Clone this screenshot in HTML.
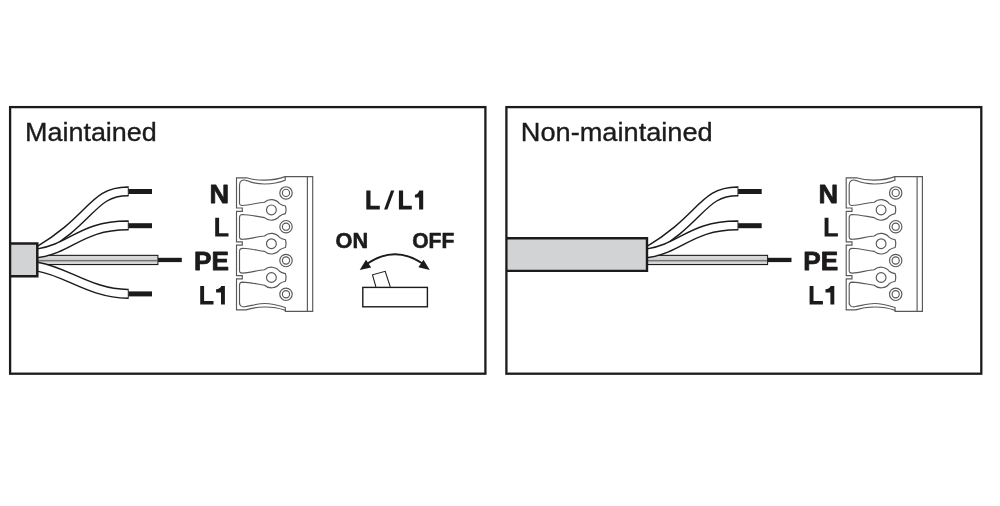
<!DOCTYPE html>
<html><head><meta charset="utf-8"><style>
html,body{margin:0;padding:0;background:#fff;}
body{width:1000px;height:506px;overflow:hidden;position:relative;}
svg{position:absolute;left:0;top:0;will-change:transform;}
text{font-family:"Liberation Sans",sans-serif;fill:#1c1a1b;}
</style></head><body>
<svg width="1000" height="506" viewBox="0 0 1000 506">
<rect x="20" y="254.8" width="138.4" height="10.3" fill="#1d1a1b"/><rect x="20" y="255.9" width="137.4" height="8.1" fill="#d5d6d8"/><rect x="20" y="259.9" width="137.4" height="1.5" fill="#747474"/><rect x="158" y="257.8" width="23.8" height="4.3" fill="#1d1a1b"/><path d="M20 252.5 L38 251.2 C93.2 218.4 92.6 191.4 127.8 191.4 H128.7" stroke="#1d1a1b" stroke-width="10.2" fill="none"/><path d="M20 252.5 L38 251.2 C93.2 218.4 92.6 191.4 127.8 191.4 H127.3" stroke="#fff" stroke-width="7.3" fill="none"/><rect x="128.4" y="189.0" width="23.6" height="5" fill="#1d1a1b"/><path d="M20 255.5 L38 253.2 C71.5 248.2 81.4 225.4 127.8 225.4 H128.7" stroke="#1d1a1b" stroke-width="10.2" fill="none"/><path d="M20 255.5 L38 253.2 C71.5 248.2 81.4 225.4 127.8 225.4 H127.3" stroke="#fff" stroke-width="7.3" fill="none"/><rect x="128.4" y="223.2" width="23.6" height="5" fill="#1d1a1b"/><path d="M20 266 L38 266.8 C66.2 271.4 91.0 293.8 127.8 293.8 H128.7" stroke="#1d1a1b" stroke-width="10.2" fill="none"/><path d="M20 266 L38 266.8 C66.2 271.4 91.0 293.8 127.8 293.8 H127.3" stroke="#fff" stroke-width="7.3" fill="none"/><rect x="128.4" y="291.4" width="23.6" height="5" fill="#1d1a1b"/>
<rect x="10" y="243.4" width="27.3" height="32.8" fill="#d2d3d5"/><path d="M10 243.4 H37.3 V276.2 H10" fill="none" stroke="#1d1a1b" stroke-width="2.5"/>
<rect x="10.1" y="107.1" width="475.3" height="266.6" fill="none" stroke="#1d1a1b" stroke-width="2.3"/>
<g fill="none" stroke="#5a5758" stroke-width="1.15">
<path d="M236.5 177.8 H246.7 C256 180.8 272 181.5 285.2 176.6 H312.7 V311.3 H285.4 V310.4 C272 305.5 256 306.5 246 309.9 H236.5 V278.9 H242.3 V275.6 H236.5 V245.1 H242.3 V241.8 H236.5 V211.3 H242.3 V208.0 H236.5 Z" fill="#fff"/>
<path d="M285.2 176.6 V180.3 C272 185.5 256 184.8 246.7 180.6 C243 179.2 239.5 180.5 239.5 185 V203 Q239.5 205.6 242.5 205.5 C250 205.0 257 202.9 264.5 202.2 A10.3 10.3 0 0 1 279.5 203.6 C281.5 205.2 283.5 205.6 285.4 206.0 C286.2 208.5 286.2 211.2 285.4 213.6 C283.5 214.1 281.5 214.6 279.5 216.2 A10.3 10.3 0 0 1 264.5 217.6 C257 216.5 250 214.8 242.5 214.5 Q239.5 214.5 239.5 217.5 V236.8 Q239.5 239.4 242.5 239.3 C250 238.8 257 236.7 264.5 236.0 A10.3 10.3 0 0 1 279.5 237.4 C281.5 239.0 283.5 239.4 285.4 239.8 C286.2 242.3 286.2 245.0 285.4 247.4 C283.5 247.9 281.5 248.4 279.5 250.0 A10.3 10.3 0 0 1 264.5 251.4 C257 250.3 250 248.6 242.5 248.3 Q239.5 248.3 239.5 251.3 V270.6 Q239.5 273.2 242.5 273.1 C250 272.6 257 270.5 264.5 269.8 A10.3 10.3 0 0 1 279.5 271.2 C281.5 272.8 283.5 273.2 285.4 273.6 C286.2 276.1 286.2 278.8 285.4 281.2 C283.5 281.7 281.5 282.2 279.5 283.8 A10.3 10.3 0 0 1 264.5 285.2 C257 284.1 250 282.4 242.5 282.1 Q239.5 282.1 239.5 285.1 V304.4 V302.5 C239.5 305.5 241.5 307 244.6 306.8 C252 305.6 258 303.5 265 303.5 C272 303.5 279 305.5 285.3 307.5 V310.4"/>
<line x1="307.4" y1="176.6" x2="307.4" y2="311.3"/>
<circle cx="286" cy="192.9" r="6.2"/><circle cx="286" cy="192.9" r="3.6"/><circle cx="286" cy="226.7" r="6.2"/><circle cx="286" cy="226.7" r="3.6"/><circle cx="286" cy="260.5" r="6.2"/><circle cx="286" cy="260.5" r="3.6"/><circle cx="286" cy="294.3" r="6.2"/><circle cx="286" cy="294.3" r="3.6"/><circle cx="271.4" cy="209.9" r="4.9"/><circle cx="271.4" cy="243.7" r="4.9"/><circle cx="271.4" cy="277.5" r="4.9"/>
</g>
<text x="25.0" y="141.0" font-size="26.3" stroke="#1c1a1b" stroke-width="0.35" textLength="131.8" lengthAdjust="spacingAndGlyphs">Maintained</text>
<g font-weight="bold" font-size="26" stroke="#1c1a1b" stroke-width="0.8" stroke-linejoin="round">
<text x="209.4" y="202.9" textLength="19.6" lengthAdjust="spacingAndGlyphs">N</text>
<text x="194.1" y="270.3" textLength="34.9" lengthAdjust="spacingAndGlyphs">PE</text>
</g>
<g fill="#1c1a1b"><path d="M366.30 190.40 H370.50 V205.80 H379.80 V209.40 H366.30 Z"/><path d="M384.1 209.4 H387.4 L394.3 190.4 H391 Z"/><path d="M398.90 190.40 H403.10 V205.80 H411.80 V209.40 H398.90 Z"/><path d="M423.20 190.60 V209.40 H419.10 V197.60 H414.90 V194.80 C417.30 194.70 418.90 192.20 419.30 190.60 Z"/></g>
<text x="335.6" y="248.1" font-weight="bold" font-size="22.6" stroke="#1c1a1b" stroke-width="0.6" stroke-linejoin="round" textLength="32.6" lengthAdjust="spacingAndGlyphs">ON</text>
<text x="412.2" y="248.1" font-weight="bold" font-size="22.6" stroke="#1c1a1b" stroke-width="0.6" stroke-linejoin="round" textLength="42.1" lengthAdjust="spacingAndGlyphs">OFF</text>
<g transform="translate(0 0)" fill="#1c1a1b"><path d="M215.20 217.70 H219.10 V233.20 H228.50 V236.60 H215.20 Z"/><path d="M200.20 285.90 H204.10 V301.10 H213.50 V304.50 H200.20 Z"/><path d="M224.90 285.90 V304.50 H221.00 V292.60 H216.10 V289.30 C218.50 289.20 220.80 287.50 221.20 285.90 Z"/></g>
<path d="M367.5 263.5 Q395 245 422.5 263.5" fill="none" stroke="#1c1a1b" stroke-width="1.8"/>
<path d="M359.7 270 L366 259.8 L371.2 267.4 Z" fill="#1c1a1b"/>
<path d="M429.8 270 L423.5 259.8 L418.4 267.2 Z" fill="#1c1a1b"/>
<path d="M375.9 286.8 L372.5 274.8 L385.2 271.3 L390.3 286.8" fill="#fff" stroke="#1c1a1b" stroke-width="1.1"/>
<rect x="362.8" y="287.4" width="64.6" height="19.4" fill="#fff" stroke="#1c1a1b" stroke-width="1.4"/>
<g transform="translate(609.7 0)">
<rect x="20" y="254.8" width="138.4" height="10.3" fill="#1d1a1b"/><rect x="20" y="255.9" width="137.4" height="8.1" fill="#d5d6d8"/><rect x="20" y="259.9" width="137.4" height="1.5" fill="#747474"/><rect x="158" y="257.8" width="23.8" height="4.3" fill="#1d1a1b"/><path d="M20 252.5 L38 251.2 C93.2 218.4 92.6 191.4 127.8 191.4 H128.7" stroke="#1d1a1b" stroke-width="10.2" fill="none"/><path d="M20 252.5 L38 251.2 C93.2 218.4 92.6 191.4 127.8 191.4 H127.3" stroke="#fff" stroke-width="7.3" fill="none"/><rect x="128.4" y="189.0" width="23.6" height="5" fill="#1d1a1b"/><path d="M20 255.5 L38 253.2 C71.5 248.2 81.4 225.4 127.8 225.4 H128.7" stroke="#1d1a1b" stroke-width="10.2" fill="none"/><path d="M20 255.5 L38 253.2 C71.5 248.2 81.4 225.4 127.8 225.4 H127.3" stroke="#fff" stroke-width="7.3" fill="none"/><rect x="128.4" y="223.2" width="23.6" height="5" fill="#1d1a1b"/>
</g>
<rect x="506.4" y="238.3" width="140.6" height="32.6" fill="#d2d3d5"/><path d="M506.4 238.3 H647 V270.9 H506.4" fill="none" stroke="#1d1a1b" stroke-width="2.4"/>
<rect x="506.4" y="107.1" width="474.9" height="266.6" fill="none" stroke="#1d1a1b" stroke-width="2.3"/>
<g transform="translate(609.7 0)"><g fill="none" stroke="#5a5758" stroke-width="1.15">
<path d="M236.5 177.8 H246.7 C256 180.8 272 181.5 285.2 176.6 H312.7 V311.3 H285.4 V310.4 C272 305.5 256 306.5 246 309.9 H236.5 V278.9 H242.3 V275.6 H236.5 V245.1 H242.3 V241.8 H236.5 V211.3 H242.3 V208.0 H236.5 Z" fill="#fff"/>
<path d="M285.2 176.6 V180.3 C272 185.5 256 184.8 246.7 180.6 C243 179.2 239.5 180.5 239.5 185 V203 Q239.5 205.6 242.5 205.5 C250 205.0 257 202.9 264.5 202.2 A10.3 10.3 0 0 1 279.5 203.6 C281.5 205.2 283.5 205.6 285.4 206.0 C286.2 208.5 286.2 211.2 285.4 213.6 C283.5 214.1 281.5 214.6 279.5 216.2 A10.3 10.3 0 0 1 264.5 217.6 C257 216.5 250 214.8 242.5 214.5 Q239.5 214.5 239.5 217.5 V236.8 Q239.5 239.4 242.5 239.3 C250 238.8 257 236.7 264.5 236.0 A10.3 10.3 0 0 1 279.5 237.4 C281.5 239.0 283.5 239.4 285.4 239.8 C286.2 242.3 286.2 245.0 285.4 247.4 C283.5 247.9 281.5 248.4 279.5 250.0 A10.3 10.3 0 0 1 264.5 251.4 C257 250.3 250 248.6 242.5 248.3 Q239.5 248.3 239.5 251.3 V270.6 Q239.5 273.2 242.5 273.1 C250 272.6 257 270.5 264.5 269.8 A10.3 10.3 0 0 1 279.5 271.2 C281.5 272.8 283.5 273.2 285.4 273.6 C286.2 276.1 286.2 278.8 285.4 281.2 C283.5 281.7 281.5 282.2 279.5 283.8 A10.3 10.3 0 0 1 264.5 285.2 C257 284.1 250 282.4 242.5 282.1 Q239.5 282.1 239.5 285.1 V304.4 V302.5 C239.5 305.5 241.5 307 244.6 306.8 C252 305.6 258 303.5 265 303.5 C272 303.5 279 305.5 285.3 307.5 V310.4"/>
<line x1="307.4" y1="176.6" x2="307.4" y2="311.3"/>
<circle cx="286" cy="192.9" r="6.2"/><circle cx="286" cy="192.9" r="3.6"/><circle cx="286" cy="226.7" r="6.2"/><circle cx="286" cy="226.7" r="3.6"/><circle cx="286" cy="260.5" r="6.2"/><circle cx="286" cy="260.5" r="3.6"/><circle cx="286" cy="294.3" r="6.2"/><circle cx="286" cy="294.3" r="3.6"/><circle cx="271.4" cy="209.9" r="4.9"/><circle cx="271.4" cy="243.7" r="4.9"/><circle cx="271.4" cy="277.5" r="4.9"/>
</g></g>
<text x="520.8" y="141.0" font-size="26.3" stroke="#1c1a1b" stroke-width="0.35" textLength="191.9" lengthAdjust="spacingAndGlyphs">Non-maintained</text>
<g transform="translate(609.2 0)" font-weight="bold" font-size="26" stroke="#1c1a1b" stroke-width="0.8" stroke-linejoin="round">
<text x="209.4" y="202.9" textLength="19.6" lengthAdjust="spacingAndGlyphs">N</text>
<text x="194.1" y="270.3" textLength="34.9" lengthAdjust="spacingAndGlyphs">PE</text>
</g>
<g transform="translate(609.4 0)" fill="#1c1a1b"><path d="M215.20 217.70 H219.10 V233.20 H228.50 V236.60 H215.20 Z"/><path d="M200.20 285.90 H204.10 V301.10 H213.50 V304.50 H200.20 Z"/><path d="M224.90 285.90 V304.50 H221.00 V292.60 H216.10 V289.30 C218.50 289.20 220.80 287.50 221.20 285.90 Z"/></g>
</svg>
</body></html>
